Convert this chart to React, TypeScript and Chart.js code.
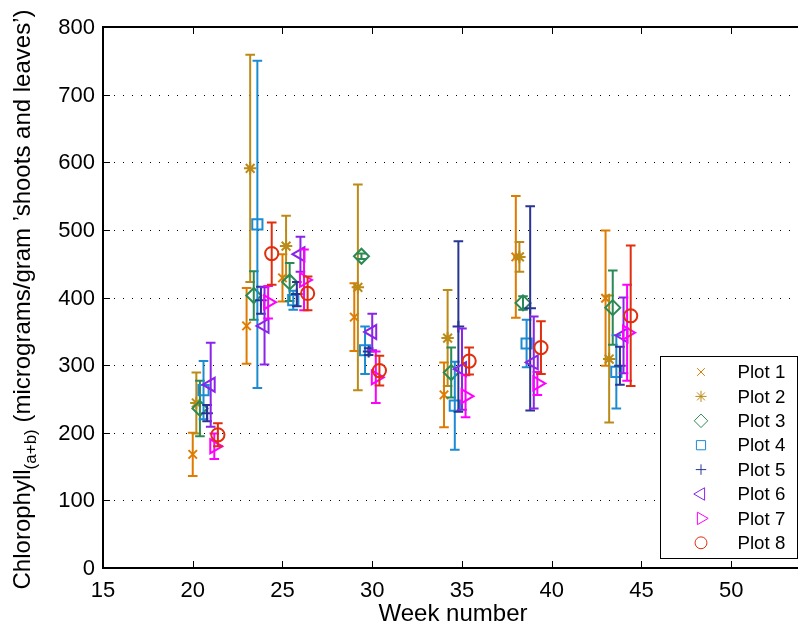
import React, { useEffect, useRef } from "react";
import { Chart, registerables } from "chart.js";
import { drawPoint } from "chart.js/helpers";

Chart.register(...registerables);

// Sampling weeks and the small horizontal shift that keeps the plots apart
const weeks = [20, 23, 25, 29, 34, 38, 43];
const plotLabels = ["Plot 1", "Plot 2", "Plot 3", "Plot 4", "Plot 5", "Plot 6", "Plot 7", "Plot 8"];
const plotOffsets = [0, 0.2, 0.4, 0.6, 0.8, 1.0, 1.2, 1.4];

// Mean chlorophyll (a+b) for each plot and week, and the half-length of its error bar
const plot1Mean = [168, 358, 429, 371, 256, 460, 399];
const plot1Err = [32, 56, 35, 50, 48, 90, 100];
const plot2Mean = [244, 591, 476, 415, 340, 460, 309];
const plot2Err = [45, 168, 45, 152, 71, 22, 94];
const plot3Mean = [236, 403, 423, 461, 289, 392, 385];
const plot3Err = [41, 36, 28, 4, 37, 10, 55];
const plot4Mean = [263, 508, 396, 322, 240, 332, 290];
const plot4Err = [43, 242, 14, 35, 65, 35, 54];
const plot5Mean = [229, 396, 405, 320, 357, 384, 299];
const plot5Err = [12, 20, 18, 5, 126, 151, 28];
const plot6Mean = [271, 358, 464, 349, 294, 304, 344];
const plot6Err = [62, 57, 26, 27, 60, 68, 56];
const plot7Mean = [180, 393, 426, 282, 254, 273, 348];
const plot7Err = [19, 24, 45, 38, 31, 17, 71];
const plot8Mean = [197, 465, 406, 292, 306, 326, 373];
const plot8Err = [17, 46, 25, 22, 20, 39, 104];

const plotMeans = [plot1Mean, plot2Mean, plot3Mean, plot4Mean, plot5Mean, plot6Mean, plot7Mean, plot8Mean];
const plotErrs = [plot1Err, plot2Err, plot3Err, plot4Err, plot5Err, plot6Err, plot7Err, plot8Err];

const plotColors = ["#E07B00", "#BC8A17", "#2A8A55", "#1D8BD1", "#283593", "#8B23E8", "#FF00FF", "#E02E0E"];
const plotMarkers = [
  { pointStyle: "crossRot", radius: 6, rotation: 0 },
  { pointStyle: "star", radius: 6.2, rotation: 0 },
  { pointStyle: "rectRot", radius: 7.5, rotation: 0 },
  { pointStyle: "rect", radius: 7.2, rotation: 0 },
  { pointStyle: "cross", radius: 5.8, rotation: 0 },
  { pointStyle: "triangle", radius: 8, rotation: -90 },
  { pointStyle: "triangle", radius: 8, rotation: 90 },
  { pointStyle: "circle", radius: 6.6, rotation: 0 },
];

const xTicks = [15, 20, 25, 30, 35, 40, 45, 50];
const yTicks = [0, 100, 200, 300, 400, 500, 600, 700, 800];

const xTitle = "Week number";
const yTitleMain = "Chlorophyll";
const yTitleSub = "(a+b)";
const yTitleRest = " (micrograms/gram \u2019shoots and leaves\u2019)";

const FONT = '"Liberation Sans", Arial, Helvetica, sans-serif';
const CAP_HALF = 4.8;

const axesPlugin = {
  id: "matlabAxes",
  beforeDatasetsDraw(chart: any) {
    const { ctx, chartArea: a, scales } = chart;
    ctx.save();
    ctx.strokeStyle = "#000";
    ctx.lineWidth = 1;
    ctx.setLineDash([1, 8]);
    yTicks.forEach((v) => {
      if (v === 0 || v === 800) return;
      const y = Math.round(scales.y.getPixelForValue(v)) + 0.5;
      ctx.beginPath();
      ctx.moveTo(a.left + 2, y);
      ctx.lineTo(a.right, y);
      ctx.stroke();
    });
    ctx.restore();
  },
  beforeDatasetDraw(chart: any, args: any) {
    const i = args.meta.index;
    const { ctx, scales } = chart;
    const means = plotMeans[i];
    const errs = plotErrs[i];
    ctx.save();
    ctx.strokeStyle = plotColors[i];
    ctx.lineWidth = 2;
    weeks.forEach((w, j) => {
      const x = scales.x.getPixelForValue(w + plotOffsets[i]);
      const yTop = scales.y.getPixelForValue(means[j] + errs[j]);
      const yBot = scales.y.getPixelForValue(means[j] - errs[j]);
      ctx.beginPath();
      ctx.moveTo(x, yTop);
      ctx.lineTo(x, yBot);
      ctx.moveTo(x - CAP_HALF, yTop);
      ctx.lineTo(x + CAP_HALF, yTop);
      ctx.moveTo(x - CAP_HALF, yBot);
      ctx.lineTo(x + CAP_HALF, yBot);
      ctx.stroke();
    });
    ctx.restore();
  },
  afterDatasetsDraw(chart: any) {
    const { ctx, chartArea: a, scales } = chart;
    ctx.save();
    // axis box (left, bottom, top)
    ctx.strokeStyle = "#000";
    ctx.lineWidth = 2;
    ctx.beginPath();
    ctx.moveTo(a.right + 2, a.top);
    ctx.lineTo(a.left, a.top);
    ctx.lineTo(a.left, a.bottom);
    ctx.lineTo(a.right + 2, a.bottom);
    ctx.stroke();

    // inward tick marks
    ctx.lineWidth = 1;
    ctx.beginPath();
    xTicks.forEach((v) => {
      const x = Math.round(scales.x.getPixelForValue(v)) + 0.5;
      ctx.moveTo(x, a.bottom);
      ctx.lineTo(x, a.bottom - 7);
      ctx.moveTo(x, a.top);
      ctx.lineTo(x, a.top + 7);
    });
    yTicks.forEach((v) => {
      const y = Math.round(scales.y.getPixelForValue(v)) + 0.5;
      ctx.moveTo(a.left, y);
      ctx.lineTo(a.left + 7, y);
    });
    ctx.stroke();

    // tick labels
    ctx.fillStyle = "#000";
    ctx.font = `22px ${FONT}`;
    ctx.textAlign = "right";
    ctx.textBaseline = "middle";
    yTicks.forEach((v) => {
      ctx.fillText(String(v), a.left - 8, scales.y.getPixelForValue(v) + 1);
    });
    ctx.textAlign = "center";
    ctx.textBaseline = "alphabetic";
    xTicks.forEach((v) => {
      ctx.fillText(String(v), scales.x.getPixelForValue(v), a.bottom + 29);
    });

    // axis titles
    ctx.font = `24px ${FONT}`;
    ctx.fillText(xTitle, (a.left + a.right) / 2, a.bottom + 53);

    ctx.save();
    ctx.translate(30, (a.top + a.bottom) / 2 + 2);
    ctx.rotate(-Math.PI / 2);
    ctx.textAlign = "left";
    ctx.font = `24px ${FONT}`;
    const w1 = ctx.measureText(yTitleMain).width;
    const w3 = ctx.measureText(yTitleRest).width;
    ctx.font = `17px ${FONT}`;
    const w2 = ctx.measureText(yTitleSub).width;
    let x0 = -(w1 + w2 + w3) / 2;
    ctx.font = `24px ${FONT}`;
    ctx.fillText(yTitleMain, x0, 0);
    x0 += w1;
    ctx.font = `17px ${FONT}`;
    ctx.fillText(yTitleSub, x0, 6);
    x0 += w2;
    ctx.font = `24px ${FONT}`;
    ctx.fillText(yTitleRest, x0, 0);
    ctx.restore();

    // legend box in the lower right corner
    const boxRight = a.right - 6.5;
    const boxBottom = a.bottom - 10;
    const boxLeft = boxRight - 137;
    const boxTop = boxBottom - 202;
    ctx.fillStyle = "#fff";
    ctx.fillRect(boxLeft, boxTop, boxRight - boxLeft, boxBottom - boxTop);
    ctx.strokeStyle = "#000";
    ctx.lineWidth = 1;
    ctx.strokeRect(Math.round(boxLeft) + 0.5, Math.round(boxTop) + 0.5, Math.round(boxRight - boxLeft), Math.round(boxBottom - boxTop));
    ctx.font = `18.7px ${FONT}`;
    ctx.textAlign = "left";
    ctx.textBaseline = "middle";
    plotLabels.forEach((label, i) => {
      const y = boxTop + 16 + i * 24.4;
      const m = plotMarkers[i];
      ctx.strokeStyle = plotColors[i];
      ctx.fillStyle = "rgba(0,0,0,0)";
      drawPoint(ctx, { pointStyle: m.pointStyle, radius: m.radius * 0.9, rotation: m.rotation, borderWidth: 1.3 } as any, boxLeft + 41.5, y);
      ctx.fillStyle = "#000";
      ctx.fillText(label, boxLeft + 78, y + 1);
    });
    ctx.restore();
  },
};

export default function App() {
  const canvasRef = useRef<HTMLCanvasElement>(null);

  useEffect(() => {
    const canvas = canvasRef.current;
    if (!canvas) return;
    const datasets = plotLabels.map((label, i) => ({
      label,
      data: weeks.map((w, j) => ({ x: w + plotOffsets[i], y: plotMeans[i][j] })),
      showLine: false,
      pointStyle: plotMarkers[i].pointStyle,
      pointRadius: plotMarkers[i].radius,
      pointRotation: plotMarkers[i].rotation,
      pointBorderWidth: 2,
      pointBorderColor: plotColors[i],
      pointBackgroundColor: "rgba(0,0,0,0)",
      borderColor: plotColors[i],
      backgroundColor: "rgba(0,0,0,0)",
      order: plotLabels.length - i,
      clip: false as any,
    }));
    const chart = new Chart(canvas, {
      type: "scatter",
      data: { datasets },
      options: {
        animation: false,
        responsive: false,
        devicePixelRatio: 1,
        events: [],
        layout: { padding: { left: 103, top: 27, right: 3, bottom: 59 }, autoPadding: false },
        plugins: { legend: { display: false }, tooltip: { enabled: false } },
        scales: {
          x: { type: "linear", min: 15, max: 54, display: false },
          y: { type: "linear", min: 0, max: 800, display: false },
        },
      },
      plugins: [axesPlugin],
    } as any);
    return () => chart.destroy();
  }, []);

  return (
    <div style={{ position: "fixed", left: 0, top: 0, width: 798, height: 627, overflow: "hidden", background: "#fff" }}>
      <canvas ref={canvasRef} width={806} height={627} style={{ display: "block" }} />
    </div>
  );
}
